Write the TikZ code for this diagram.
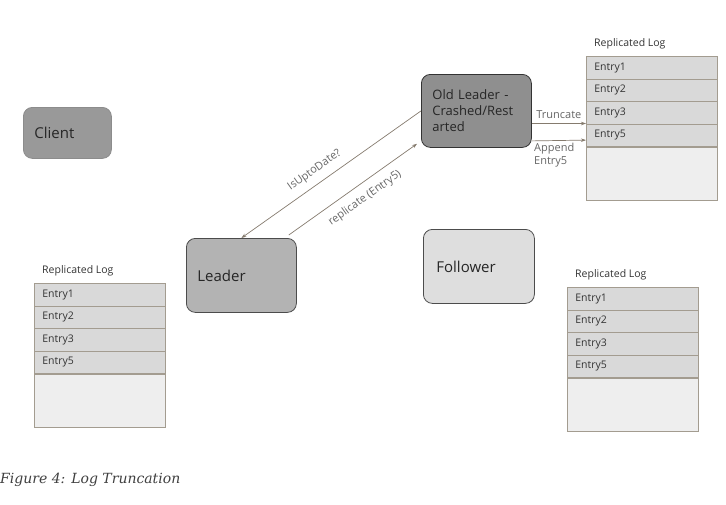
\documentclass[tikz,border=0pt]{standalone}
\usepackage{fontspec}
\setmainfont{Open Sans}
\newfontfamily\capfont{DejaVu Serif}
\usetikzlibrary{arrows.meta}

\definecolor{linkcol}{HTML}{857B6E}
\definecolor{logline}{HTML}{A39C90}
\definecolor{entryfill}{HTML}{D9D9D9}
\definecolor{restfill}{HTML}{EEEEEE}
\definecolor{clientfill}{HTML}{999999}
\definecolor{leaderfill}{HTML}{B3B3B3}
\definecolor{oldfill}{HTML}{8F8F8F}
\definecolor{followerfill}{HTML}{DEDEDE}

\tikzset{
  server/.style={draw=black!70, rounded corners=9pt, line width=0.8pt, anchor=north west,
    inner xsep=11pt, inner ysep=0pt, align=left, text=black!85, font=\fontsize{15}{18}\selectfont},
  entry/.style={draw=logline, fill=entryfill, line width=0.7pt, anchor=north west,
    minimum height=22.5pt, text width=115pt, inner xsep=8pt, inner ysep=0pt, align=left,
    text=black!80, font=\fontsize{10.5}{12}\selectfont},
  rest/.style={draw=logline, fill=restfill, line width=0.7pt, anchor=north west,
    minimum width=131pt, minimum height=53pt, inner sep=0pt},
  logtitle/.style={anchor=west, inner sep=0pt, text=black!80, font=\fontsize{10.5}{12}\selectfont},
  link/.style={draw=linkcol, line width=0.7pt, -{Stealth[length=5pt,width=3.5pt]}},
  lbl/.style={text=black!60, font=\fontsize{11}{13}\selectfont}
}

\begin{document}
\begin{tikzpicture}[x=1pt,y=-1pt]

  \useasboundingbox (0,0) rectangle (726,504);

  % Servers
  \node[server, fill=clientfill, draw=black!45, minimum width=88pt, minimum height=51pt,
    text width=66pt] (client) at (23,107) {Client};
  \node[server, fill=leaderfill, minimum width=110pt, minimum height=74pt,
    text width=88pt] (leader) at (186,238) {Leader};
  \node[server, fill=oldfill, draw=black!80, minimum width=110pt, minimum height=73pt,
    text width=88pt, font=\fontsize{13}{16}\selectfont] (old) at (421,74)
    {Old Leader -\\Crashed/Rest\\arted};
  \node[server, fill=followerfill, minimum width=111pt, minimum height=74pt,
    inner xsep=13pt, text width=85pt] (follower) at (423,229) {Follower};

  % Replicated logs
  \foreach \lg/\lx/\ly in {ol/586/56, ll/34/283, fl/567/287} {
    \node[logtitle] (\lg title) at (\lx+8,\ly-12) {Replicated Log};
    \foreach \e [count=\i] in {1,2,3,5}
      \node[entry] (\lg\i) at (\lx,{\ly+(\i-1)*22.5}) {Entry\e};
    \node[rest] (\lg rest) at (\lg4.south west) {};
  }

  % Messages
  \draw[link] (old.west) -- (leader.north)
    node[lbl, pos=0.55, sloped, above=4pt] {IsUptoDate?};
  \draw[link] ([shift={(-8pt,3pt)}]leader.north east) -- ([shift={(-4pt,4pt)}]old.south west)
    node[lbl, pos=0.53, sloped, below=5pt] {replicate (Entry5)};

  \draw[link] (old.east |- ol4.north) -- (ol4.north west)
    node[lbl, midway, above=1pt] {Truncate};
  \draw[link] ([yshift=-30pt]old.east) -- ([yshift=-5pt]ol4.west)
    node[lbl, pos=0, below right=1pt, align=left, inner sep=1pt] {Append\\Entry5};

  % Caption
  \node[anchor=base west, inner sep=0pt, text=black!75, font=\capfont\itshape\fontsize{14}{17}\selectfont]
    (caption) at (0,483) {Figure 4: Log Truncation};

\end{tikzpicture}
\end{document}
